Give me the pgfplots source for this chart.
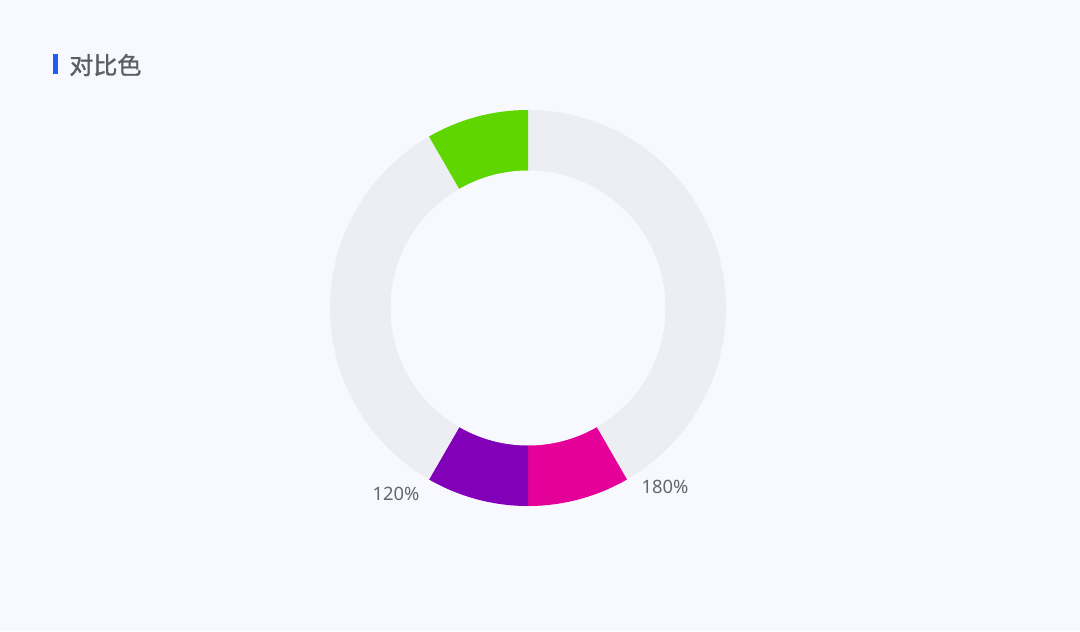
\documentclass[border=0pt]{standalone}
\usepackage{fontspec}
\setmainfont{Noto Sans}
\newfontfamily\cjk[FakeBold=1.2]{Noto Sans CJK SC}
\usepackage{pgfplots}
\pgfplotsset{compat=1.18}
\definecolor{bg}{HTML}{F8F9FE}
\definecolor{ringgray}{HTML}{EDEEF3}
\definecolor{cgreen}{HTML}{5FD600}
\definecolor{cmagenta}{HTML}{E5009A}
\definecolor{cpurple}{HTML}{8200B8}
\definecolor{titleblue}{HTML}{1F5EF5}
\definecolor{txt}{HTML}{5D5D66}
\definecolor{lbl}{HTML}{66666F}
\begin{document}
\begin{tikzpicture}
\begin{axis}[
  scale only axis, width=540pt, height=315.5pt,
  xmin=0, xmax=1080, ymin=0, ymax=631, y dir=reverse,
  axis line style={draw=none}, xtick=\empty, ytick=\empty,
  axis background/.style={fill=bg},
  clip=false,
]
% segments (degrees clockwise from top): gray 150, magenta 30, purple 30, gray 60, gray 60, green 30
\addplot[fill=ringgray, draw=none, domain=0:150, samples=76] ({528+198*sin(x)},{308-198*cos(x)}) -- (axis cs:528,308) -- cycle;
\addplot[fill=cmagenta, draw=none, domain=150:180, samples=31] ({528+198*sin(x)},{308-198*cos(x)}) -- (axis cs:528,308) -- cycle;
\addplot[fill=cpurple, draw=none, domain=180:210, samples=31] ({528+198*sin(x)},{308-198*cos(x)}) -- (axis cs:528,308) -- cycle;
\addplot[fill=ringgray, draw=none, domain=210:270, samples=41] ({528+198*sin(x)},{308-198*cos(x)}) -- (axis cs:528,308) -- cycle;
\addplot[fill=ringgray, draw=none, domain=270:330, samples=41] ({528+198*sin(x)},{308-198*cos(x)}) -- (axis cs:528,308) -- cycle;
\addplot[fill=cgreen, draw=none, domain=330:360, samples=31] ({528+198*sin(x)},{308-198*cos(x)}) -- (axis cs:528,308) -- cycle;
% hole
\addplot[fill=bg, draw=none, domain=0:360, samples=181] ({528+137.5*sin(x)},{308-137.5*cos(x)}) -- cycle;
% labels
\node[text=lbl, font=\fontsize{9.2}{9.2}\selectfont] at (axis cs:665,487) {180\%};
\node[text=lbl, font=\fontsize{9.2}{9.2}\selectfont] at (axis cs:396,494) {120\%};
% title
\fill[titleblue] (axis cs:52.5,54) rectangle (axis cs:57.5,74.5);
\node[anchor=west, text=txt, font=\cjk\fontsize{12}{12}\selectfont, inner sep=0pt] at (axis cs:69,65) {对比色};
\end{axis}
\end{tikzpicture}
\end{document}
